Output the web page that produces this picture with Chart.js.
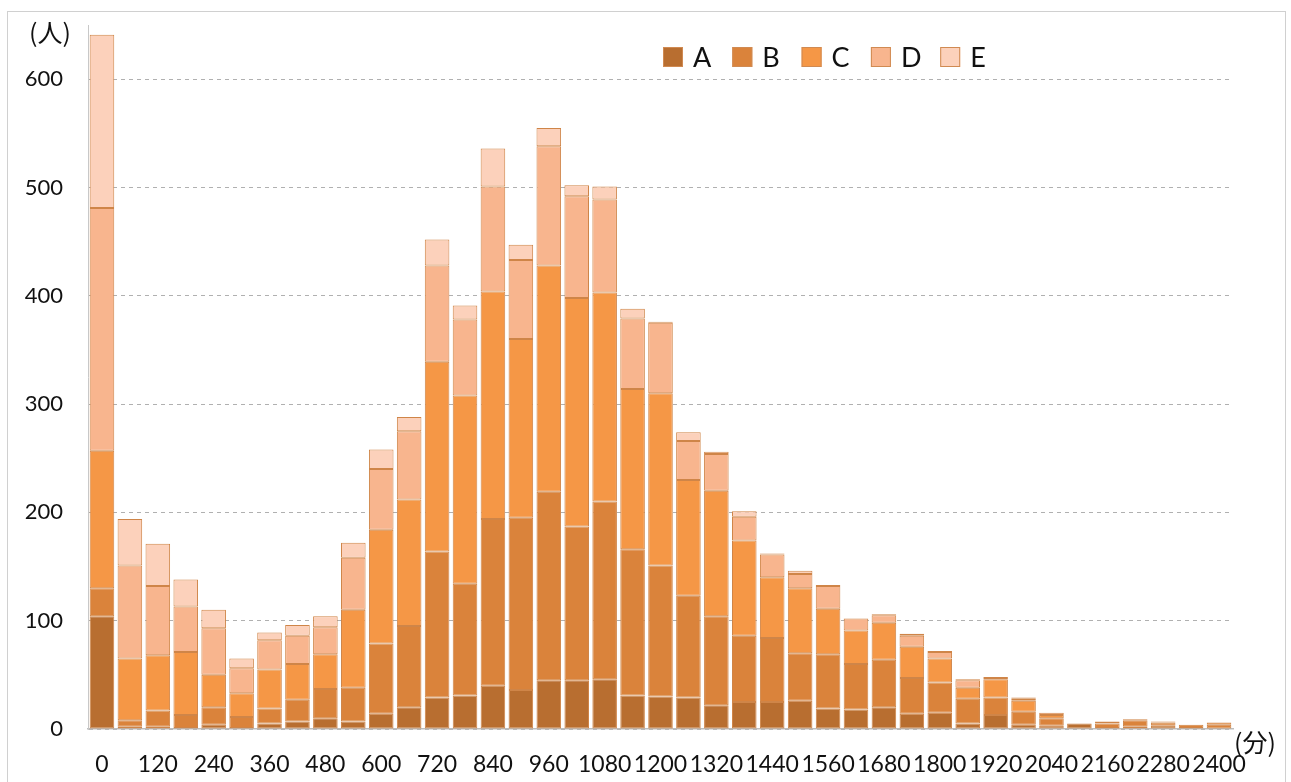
<!DOCTYPE html>
<html>
<head>
<meta charset="utf-8">
<script src="https://cdn.jsdelivr.net/npm/chart.js@4.4.0/dist/chart.umd.min.js"></script>
<style>
  html, body { margin: 0; padding: 0; background: #fff; }
  #wrap { width: 1291px; height: 782px; position: relative; }
</style>
</head>
<body>
<div id="wrap"><canvas id="grafico"></canvas></div>
<script>
// 区分 (分)
const categorias = [0, 60, 120, 180, 240, 300, 360, 420, 480, 540, 600, 660, 720, 780, 840, 900, 960, 1020, 1080, 1140,
    1200, 1260, 1320, 1380, 1440, 1500, 1560, 1620, 1680, 1740, 1800, 1860, 1920, 1980, 2040, 2100, 2160, 2220, 2280, 2340, 2400];

const serieA = [104, 2, 2, 1, 4, 1, 5, 7, 10, 7, 14, 20, 29, 31, 40, 36, 45, 45, 46, 31, 30, 29, 22, 25, 25, 26, 19, 18, 20, 14, 15, 5, 13, 4, 3, 5, 1, 2, 3, 1, 0];
const serieB = [26, 6, 15, 12, 16, 10, 14, 20, 27, 31, 65, 75, 135, 103, 154, 159, 174, 142, 164, 135, 121, 94, 82, 61, 59, 44, 50, 42, 44, 33, 28, 23, 16, 12, 7, 0, 4, 6, 3, 3, 4];
const serieC = [127, 57, 51, 58, 30, 22, 36, 33, 32, 72, 105, 117, 175, 174, 210, 165, 209, 211, 193, 148, 159, 107, 116, 88, 56, 60, 42, 31, 34, 29, 22, 10, 17, 10, 3, 0, 2, 1, 1, 0, 2];
const serieD = [224, 86, 64, 42, 43, 23, 27, 26, 25, 48, 56, 63, 89, 70, 97, 73, 110, 94, 86, 65, 65, 36, 34, 22, 21, 13, 21, 11, 7, 10, 6, 7, 1, 2, 2, 0, 0, 0, 0, 0, 0];
const serieE = [160, 43, 39, 25, 17, 9, 7, 10, 10, 14, 18, 13, 24, 13, 35, 14, 17, 10, 12, 9, 1, 8, 2, 5, 1, 3, 1, 0, 1, 2, 1, 1, 1, 1, 0, 0, 0, 0, 0, 0, 0];

const nomesSeries = ['A', 'B', 'C', 'D', 'E'];
const coresSeries = ['#b86e30', '#da833b', '#f59746', '#f8b58e', '#fcd1bb'];
const ticksY = [0, 100, 200, 300, 400, 500, 600];

const fonteNum = 'Lato, "Liberation Sans", sans-serif';
const fonteJp = '"Noto Sans CJK JP", sans-serif';

// moldura, unidades e legenda desenhadas à mão
const extras = {
    id: 'extras',
    beforeDraw(chart) {
        const ctx = chart.ctx;
        ctx.save();
        ctx.fillStyle = '#fff';
        ctx.fillRect(0, 0, chart.width, chart.height);
        ctx.strokeStyle = '#d0d0d0';
        ctx.lineWidth = 1;
        ctx.strokeRect(7.5, 11.5, 1278, 790);
        ctx.restore();
    },
    afterDraw(chart) {
        const ctx = chart.ctx;
        ctx.save();
        ctx.fillStyle = '#111';
        ctx.font = '25px ' + fonteJp;
        ctx.textBaseline = 'middle';
        ctx.textAlign = 'center';
        ctx.fillText('(人)', 50, 32);
        ctx.fillText('(分)', 1255, 742);

        // legenda
        ctx.font = '27px ' + fonteNum;
        ctx.textAlign = 'left';
        chart.data.datasets.forEach((ds, i) => {
            const x = 663 + i * 69.3;
            ctx.fillStyle = ds.backgroundColor;
            ctx.fillRect(x, 47, 20, 20);
            ctx.strokeStyle = '#d08a52';
            ctx.lineWidth = 1;
            ctx.strokeRect(x + 0.5, 47.5, 19, 19);
            ctx.fillStyle = '#111';
            ctx.fillText(ds.label, x + 30, 58);
        });
        ctx.restore();
    }
};

const series = [serieA, serieB, serieC, serieD, serieE];

new Chart(document.getElementById('grafico').getContext('2d'), {
    type: 'bar',
    data: {
        labels: categorias,
        datasets: series.map((s, i) => ({
            label: nomesSeries[i],
            data: s,
            backgroundColor: coresSeries[i],
            borderColor: '#cf8548',
            borderWidth: 1,
            borderSkipped: false,
            barPercentage: 0.88,
            categoryPercentage: 1
        }))
    },
    options: {
        responsive: true,
        maintainAspectRatio: false,
        animation: false,
        layout: { padding: { left: 0, right: 58, top: 25, bottom: 0 } },
        plugins: { legend: { display: false }, tooltip: { enabled: false } },
        scales: {
            x: {
                stacked: true,
                afterFit: s => { s.height = 53; },
                grid: { display: false },
                border: { display: true, color: '#bdbdbd', width: 1.5 },
                ticks: {
                    autoSkip: false,
                    maxRotation: 0,
                    padding: 14,
                    color: '#111',
                    font: { family: fonteNum, size: 23 },
                    callback: (v, i) => (i % 2 === 0 ? categorias[i] : '')
                }
            },
            y: {
                stacked: true,
                min: 0,
                max: 650,
                afterFit: s => { s.width = 88; s.paddingTop = 0; s.paddingBottom = 0; },
                afterBuildTicks: s => { s.ticks = ticksY.map(v => ({ value: v })); },
                grid: { color: '#b0b0b0', lineWidth: 1, drawTicks: false },
                border: { display: true, color: '#c8c8c8', width: 1, dash: [4, 4] },
                ticks: {
                    padding: 25,
                    color: '#111',
                    font: { family: fonteNum, size: 22 }
                }
            }
        }
    },
    plugins: [extras]
});
</script>
</body>
</html>
